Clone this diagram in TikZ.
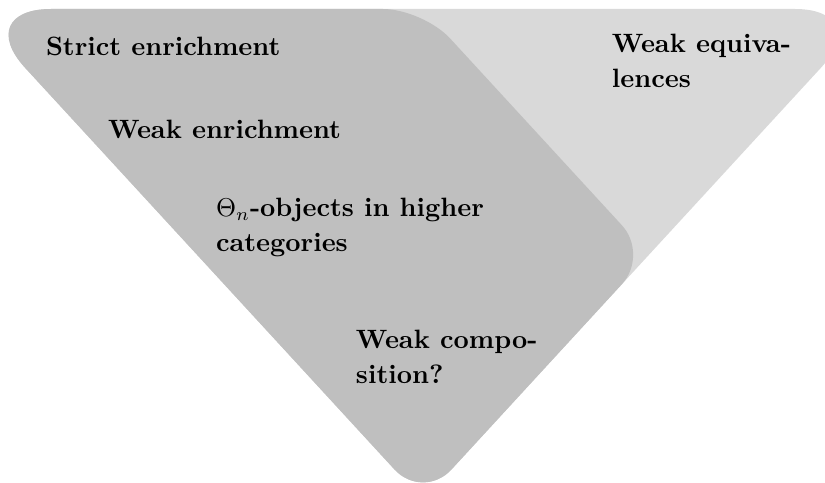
\documentclass[tikz,border=0pt]{standalone}
\newcommand{\twolines}[2]{\begin{tabular}[t]{@{}l@{}}#1\\#2\end{tabular}}
\tikzset{
  lbl/.style={anchor=base west, inner sep=0pt, outer sep=0pt, font=\fontsize{10.3}{13.59}\selectfont\bfseries},
  lightshape/.style={fill=black!15, draw=none},
  darkshape/.style={fill=black!25, draw=none}
}
\begin{document}
\begin{tikzpicture}[x=0.3883pt,y=-0.3883pt]
\useasboundingbox (0,0) rectangle (825,483);
\clip (0,0) rectangle (825,483);
% light triangle (weak equivalences)
\path[lightshape] (51,9) -- (795,9) .. controls (839.2,9) and (850.76,35.35) .. (820.84,67.89)
  -- (451.43,469.58) .. controls (435.73,486.66) and (410.27,486.66) .. (394.57,469.58)
  -- (25.16,67.89) .. controls (-4.76,35.35) and (6.8,9) .. (51,9) -- cycle;
% dark quadrilateral (enrichment)
\path[darkshape] (51,9) -- (383,9) .. controls (405.1,9) and (435.12,22.18) .. (450.08,38.44)
  -- (621.92,225.31) .. controls (636.88,241.57) and (636.88,267.93) .. (621.92,284.19)
  -- (451.43,469.58) .. controls (435.73,486.66) and (410.27,486.66) .. (394.57,469.58)
  -- (25.16,67.89) .. controls (-4.76,35.35) and (6.8,9) .. (51,9) -- cycle;
\node[lbl] (strict) at (46,56) {Strict enrichment};
\node[lbl] (weakenr) at (108,139) {Weak enrichment};
\node[lbl] (theta) at (216,217) {\twolines{$\Theta_n$-objects in higher}{categories}};
\node[lbl] (compo) at (356,348.5) {\twolines{Weak compo-}{sition?}};
\node[lbl] (equiv) at (612,52.7) {\twolines{Weak equiva-}{lences}};
\end{tikzpicture}
\end{document}
